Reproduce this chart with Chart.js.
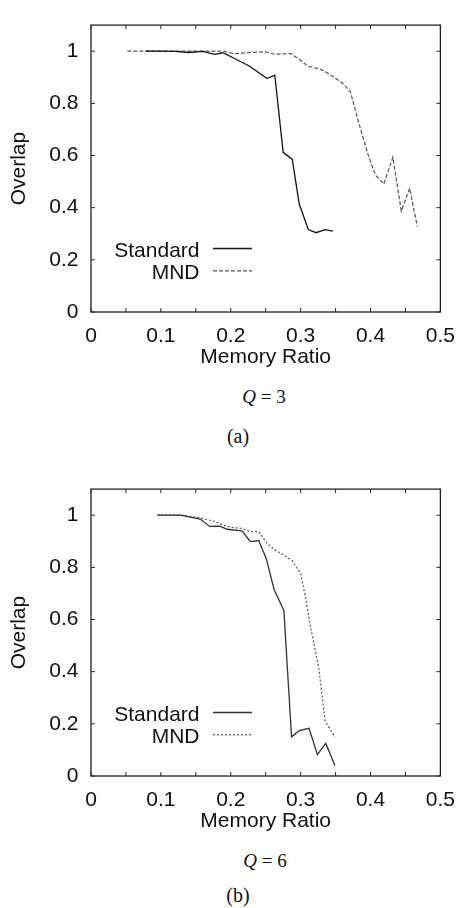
<!DOCTYPE html>
<html>
<head>
<meta charset="utf-8">
<script src="https://cdn.jsdelivr.net/npm/chart.js@4.4.0/dist/chart.umd.min.js"></script>
<style>
  body { margin: 0; background: #fff; }
  #page { position: relative; width: 467px; height: 908px; overflow: hidden; background: #fff; }
  .plot { position: absolute; left: 0; }
  .cap { position: absolute; font-family: "Liberation Serif", "DejaVu Serif", serif; color: #111; white-space: nowrap; transform: translateX(-50%); }
</style>
</head>
<body>
<div id="page">
  <canvas id="chartA" class="plot" width="467" height="372" style="top:0px"></canvas>
  <div class="cap" style="left:264px;top:387px;font-size:19px;line-height:19px"><i>Q</i> = 3</div>
  <div class="cap" style="left:238px;top:426px;font-size:20px;line-height:20px">(a)</div>
  <canvas id="chartB" class="plot" width="467" height="372" style="top:464px"></canvas>
  <div class="cap" style="left:265px;top:851px;font-size:19px;line-height:19px"><i>Q</i> = 6</div>
  <div class="cap" style="left:238px;top:885px;font-size:20px;line-height:20px">(b)</div>
</div>
<script>
// (a) Q = 3
const stdXa = [0.078, 0.10, 0.12, 0.14, 0.16, 0.177, 0.189, 0.208, 0.226, 0.252, 0.263, 0.275, 0.288, 0.298, 0.311, 0.322, 0.335, 0.346];
const stdYa = [1.0, 1.0, 0.999, 0.995, 0.999, 0.988, 0.994, 0.968, 0.944, 0.895, 0.908, 0.612, 0.585, 0.414, 0.316, 0.304, 0.316, 0.31];
const mndXa = [0.052, 0.08, 0.10, 0.13, 0.16, 0.19, 0.205, 0.221, 0.249, 0.263, 0.286, 0.298, 0.311, 0.322, 0.333, 0.347, 0.36, 0.371, 0.386, 0.397, 0.407, 0.419, 0.432, 0.444, 0.456, 0.467];
const mndYa = [1.0, 1.0, 1.0, 1.0, 1.0, 1.0, 0.99, 0.994, 0.998, 0.988, 0.991, 0.969, 0.942, 0.935, 0.926, 0.901, 0.877, 0.846, 0.698, 0.599, 0.525, 0.491, 0.593, 0.387, 0.474, 0.328];

// (b) Q = 6
const stdXb = [0.095, 0.128, 0.156, 0.17, 0.184, 0.195, 0.216, 0.228, 0.24, 0.251, 0.262, 0.276, 0.287, 0.298, 0.312, 0.324, 0.336, 0.349];
const stdYb = [1.0, 1.0, 0.985, 0.957, 0.958, 0.946, 0.94, 0.899, 0.903, 0.832, 0.715, 0.635, 0.15, 0.174, 0.183, 0.082, 0.125, 0.04];
const mndXb = [0.095, 0.13, 0.156, 0.177, 0.19, 0.202, 0.216, 0.228, 0.24, 0.251, 0.262, 0.274, 0.288, 0.3, 0.307, 0.314, 0.326, 0.335, 0.349];
const mndYb = [1.0, 1.0, 0.99, 0.976, 0.961, 0.953, 0.949, 0.937, 0.937, 0.895, 0.868, 0.85, 0.825, 0.776, 0.684, 0.574, 0.414, 0.211, 0.15];

const seriesNames = ["Standard", "MND"];
const xTitle = "Memory Ratio";
const yTitle = "Overlap";

const sans = '"Liberation Sans", Arial, Helvetica, sans-serif';

function pts(xs, ys) {
  return xs.map((x, i) => ({ x: x, y: ys[i] }));
}

// gnuplot style frame: box, inward ticks on all sides, key at lower left
const frame = {
  id: "frame",
  afterDatasetsDraw(chart) {
    const { ctx, chartArea: a } = chart;
    const x = chart.scales.x, y = chart.scales.y;
    ctx.save();
    ctx.strokeStyle = "#222";
    ctx.lineWidth = 1.3;
    ctx.strokeRect(a.left, a.top, a.right - a.left, a.bottom - a.top);
    ctx.lineWidth = 1;
    ctx.beginPath();
    x.ticks.forEach(t => {
      const px = x.getPixelForValue(t.value);
      ctx.moveTo(px, a.bottom); ctx.lineTo(px, a.bottom - 4);
      ctx.moveTo(px, a.top); ctx.lineTo(px, a.top + 4);
    });
    y.ticks.forEach(t => {
      const py = y.getPixelForValue(t.value);
      ctx.moveTo(a.left, py); ctx.lineTo(a.left + 4, py);
      ctx.moveTo(a.right, py); ctx.lineTo(a.right - 4, py);
    });
    ctx.stroke();

    ctx.font = "21px " + sans;
    ctx.textAlign = "right";
    ctx.fillStyle = "#111";
    chart.data.datasets.forEach((ds, i) => {
      const ly = a.bottom - 63.5 + i * 22.3;
      ctx.fillText(ds.label, a.left + 108.5, ly + 8);
      ctx.strokeStyle = ds.borderColor;
      ctx.lineWidth = ds.borderWidth;
      ctx.setLineDash(ds.borderDash || []);
      ctx.beginPath();
      ctx.moveTo(a.left + 122, ly);
      ctx.lineTo(a.left + 161, ly);
      ctx.stroke();
    });
    ctx.setLineDash([]);
    ctx.restore();
  }
};

function createChart(id, std, mnd, stdColor, mndDash, padTop) {
  return new Chart(document.getElementById(id), {
    type: "scatter",
    data: {
      datasets: [
        {
          label: seriesNames[0],
          data: std,
          showLine: true,
          borderColor: stdColor,
          borderWidth: 1.3,
          pointRadius: 0,
          tension: 0
        },
        {
          label: seriesNames[1],
          data: mnd,
          showLine: true,
          borderColor: "#555",
          borderWidth: 1.2,
          borderDash: mndDash,
          pointRadius: 0,
          tension: 0
        }
      ]
    },
    options: {
      responsive: false,
      animation: false,
      layout: { padding: { top: padTop, right: 17, left: 0, bottom: 0 } },
      plugins: { legend: { display: false }, tooltip: { enabled: false } },
      scales: {
        x: {
          type: "linear",
          min: 0,
          max: 0.5,
          grid: { display: false, drawTicks: false },
          border: { display: false },
          ticks: {
            stepSize: 0.05,
            autoSkip: false,
            maxRotation: 0,
            padding: 12,
            color: "#111",
            font: { family: sans, size: 21 },
            callback: v => {
              const r = Math.round(v * 100);
              return r % 10 === 0 ? String(r / 100) : "";
            }
          },
          title: {
            display: true,
            text: xTitle,
            color: "#111",
            font: { family: sans, size: 21 },
            padding: { top: 0, bottom: 2 }
          },
          afterFit: s => { s.height = 60; }
        },
        y: {
          type: "linear",
          min: 0,
          max: 1.1,
          grid: { display: false, drawTicks: false },
          border: { display: false },
          ticks: {
            stepSize: 0.2,
            includeBounds: false,
            padding: 12.5,
            color: "#111",
            font: { family: sans, size: 21 },
            callback: v => String(Math.round(v * 10) / 10)
          },
          title: {
            display: true,
            text: yTitle,
            color: "#111",
            font: { family: sans, size: 21 },
            padding: { top: 7, bottom: 0 }
          },
          afterFit: s => { s.width = 91; }
        }
      }
    },
    plugins: [frame]
  });
}

createChart("chartA", pts(stdXa, stdYa), pts(mndXa, mndYa), "#111", [4, 2], 14);
createChart("chartB", pts(stdXb, stdYb), pts(mndXb, mndYb), "#333", [2, 2], 13);
</script>
</body>
</html>
